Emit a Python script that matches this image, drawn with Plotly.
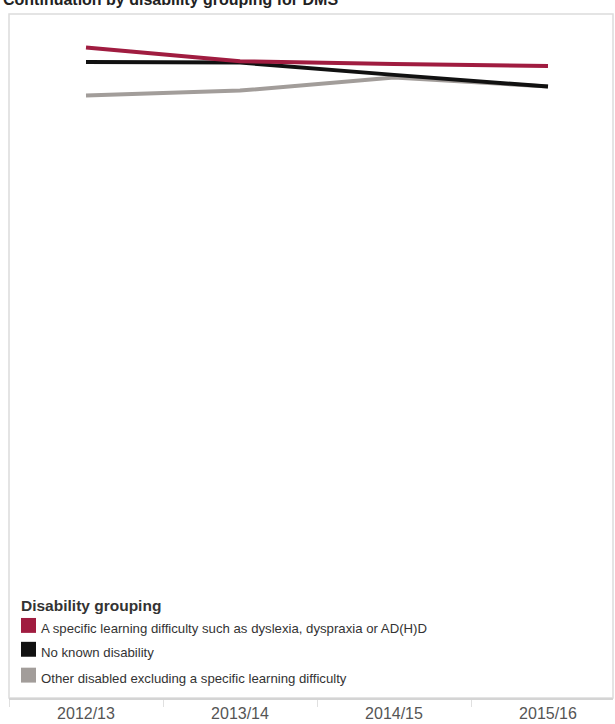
import plotly.graph_objects as go

# Academic years on the category axis
years = ["2012/13", "2013/14", "2014/15", "2015/16"]

# Continuation rates by disability grouping
series_names = [
    "A specific learning difficulty such as dyslexia, dyspraxia or AD(H)D",
    "No known disability",
    "Other disabled excluding a specific learning difficulty",
]
specific_ld = [0.951, 0.931, 0.927, 0.924]
no_known = [0.930, 0.929, 0.911, 0.894]
other_disabled = [0.881, 0.888, 0.907, 0.894]

series_values = [specific_ld, no_known, other_disabled]
series_colors = ["#a01c40", "#111111", "#a29d9a"]

TEXT = "#333333"
FONT = "Liberation Sans, Arial, sans-serif"

W, H = 615, 724
ML, MR, MT, MB = 9, 2, 14, 22
PW = W - ML - MR
PH = H - MT - MB

fig = go.Figure()

# draw grey first, then black, red on top
for i in [2, 1, 0]:
    fig.add_trace(go.Scatter(
        x=years, y=series_values[i], name=series_names[i],
        mode="lines", line=dict(color=series_colors[i], width=4),
        showlegend=False, hoverinfo="x+y+name",
    ))

# band width per category in pixels; right edge of view cuts the last band
band = 154
x_hi = -0.5 + PW / band


def px_x(p):
    return (p - ML) / PW


def px_y(p):
    return (H - MB - p) / PH


shapes = []
annotations = []

# pane frame
shapes.append(dict(type="rect", xref="paper", yref="paper",
                   x0=0, x1=1, y0=0, y1=1,
                   line=dict(color="#dcdcdc", width=1.5), layer="below"))

# legend block
annotations.append(dict(
    text="<b>Disability grouping</b>", xref="paper", yref="paper",
    x=px_x(19), y=px_y(609), xanchor="left", yanchor="middle",
    showarrow=False, font=dict(size=15.5, color=TEXT, family=FONT)))
row_y = [632, 656, 682]
for name, col, ry in zip(series_names, series_colors, row_y):
    shapes.append(dict(type="rect", xref="paper", yref="paper",
                       x0=px_x(21), x1=px_x(36), y0=px_y(ry - 3 + 7.5), y1=px_y(ry - 3 - 7.5),
                       fillcolor=col, line=dict(width=0)))
    annotations.append(dict(
        text=name, xref="paper", yref="paper",
        x=px_x(39), y=px_y(ry), xanchor="left", yanchor="middle",
        showarrow=False, font=dict(size=13.2, color=TEXT, family=FONT)))

# chart title, sitting at the very top edge of the page
annotations.append(dict(
    text="<b>Continuation by disability grouping for DMS</b>",
    xref="paper", yref="paper", x=px_x(1), y=px_y(-1),
    xanchor="left", yanchor="middle", showarrow=False,
    font=dict(size=16, color="#222222", family=FONT)))

fig.update_layout(
    width=W, height=H,
    margin=dict(l=ML, r=MR, t=MT, b=MB),
    paper_bgcolor="white", plot_bgcolor="white",
    shapes=shapes, annotations=annotations,
    xaxis=dict(
        type="category", categoryorder="array", categoryarray=years,
        range=[-0.5, x_hi], showgrid=False, zeroline=False,
        showline=True, linecolor="#d4d4d4", linewidth=1.5,
        ticks="outside", tickson="boundaries", ticklen=7,
        tickcolor="#e0e0e0", tickwidth=1,
        tickfont=dict(size=16, color="#555555", family=FONT),
        fixedrange=True,
    ),
    yaxis=dict(range=[0, 1], visible=False, showgrid=False,
               zeroline=False, fixedrange=True),
    showlegend=False,
)

fig.write_html("out.html")
